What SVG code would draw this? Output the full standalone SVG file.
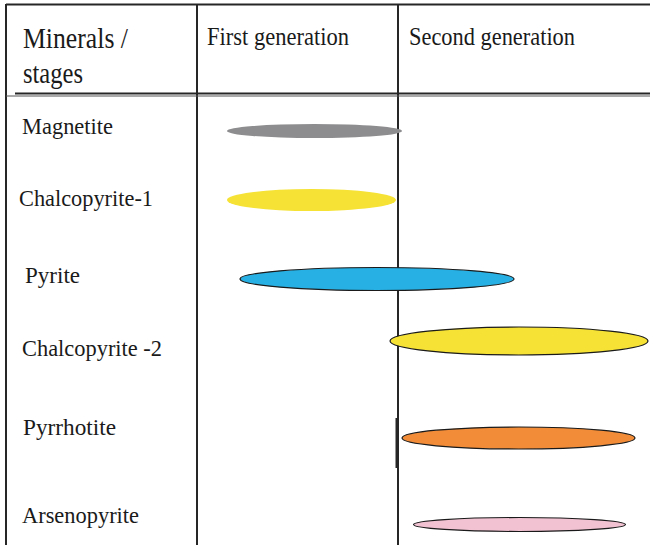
<svg xmlns="http://www.w3.org/2000/svg" width="650" height="545" viewBox="0 0 650 545">
  <style>
    .grid { stroke: #262626; stroke-width: 2; fill: none; }
    text { font-family: 'Liberation Serif', 'DejaVu Serif', serif; fill: #1a1a1a; }
    .lbl { font-size: 24px; }
    .bar-out { stroke: #1a1a1a; stroke-width: 1.2; }
  </style>
  <rect width="650" height="545" fill="#ffffff"/>

  <!-- table grid -->
  <g id="grid">
    <line class="grid" x1="6" y1="4.5" x2="650" y2="4.5"/>
    <line class="grid" x1="6" y1="4" x2="6" y2="545"/>
    <line class="grid" x1="197" y1="4" x2="197" y2="545"/>
    <line class="grid" x1="398" y1="4" x2="398" y2="545"/>
    <line class="grid" x1="15" y1="93.5" x2="650" y2="93.5"/>
    <line x1="6" y1="96" x2="650" y2="96" stroke="#555" stroke-width="1"/>
    <line x1="397" y1="418" x2="397" y2="468" stroke="#262626" stroke-width="3"/>
  </g>

  <!-- header row -->
  <g id="header" font-family="Liberation Serif">
    <text x="23" y="48" font-size="29" textLength="105" lengthAdjust="spacingAndGlyphs">Minerals /</text>
    <text x="23" y="83" font-size="29" textLength="60" lengthAdjust="spacingAndGlyphs">stages</text>
    <text x="207" y="45" font-size="26" textLength="142" lengthAdjust="spacingAndGlyphs">First generation</text>
    <text x="409" y="45" font-size="26" textLength="166" lengthAdjust="spacingAndGlyphs">Second generation</text>
  </g>

  <!-- mineral rows: label + duration bar -->
  <g id="magnetite">
    <text class="lbl" x="22" y="134" textLength="91" lengthAdjust="spacingAndGlyphs">Magnetite</text>
    <ellipse cx="314.5" cy="131" rx="87.5" ry="7" fill="#8d8d8f"/>
  </g>
  <g id="chalcopyrite-1">
    <text class="lbl" x="19" y="206" textLength="134" lengthAdjust="spacingAndGlyphs">Chalcopyrite-1</text>
    <ellipse cx="311.5" cy="200" rx="84.5" ry="11" fill="#f5e234"/>
  </g>
  <g id="pyrite">
    <text class="lbl" x="25" y="283" textLength="55" lengthAdjust="spacingAndGlyphs">Pyrite</text>
    <ellipse class="bar-out" cx="377" cy="279" rx="137" ry="11.5" fill="#27b0e3"/>
  </g>
  <g id="chalcopyrite-2">
    <text class="lbl" x="22" y="356" textLength="140" lengthAdjust="spacingAndGlyphs">Chalcopyrite -2</text>
    <ellipse class="bar-out" cx="519" cy="341" rx="129" ry="14" fill="#f5e234"/>
  </g>
  <g id="pyrrhotite">
    <text class="lbl" x="23" y="435" textLength="93" lengthAdjust="spacingAndGlyphs">Pyrrhotite</text>
    <ellipse class="bar-out" cx="518.5" cy="438" rx="116.5" ry="11" fill="#f28c38"/>
  </g>
  <g id="arsenopyrite">
    <text class="lbl" x="22" y="523" textLength="117" lengthAdjust="spacingAndGlyphs">Arsenopyrite</text>
    <ellipse class="bar-out" cx="519.5" cy="524.5" rx="106" ry="7" fill="#f2c2d2"/>
  </g>
</svg>
